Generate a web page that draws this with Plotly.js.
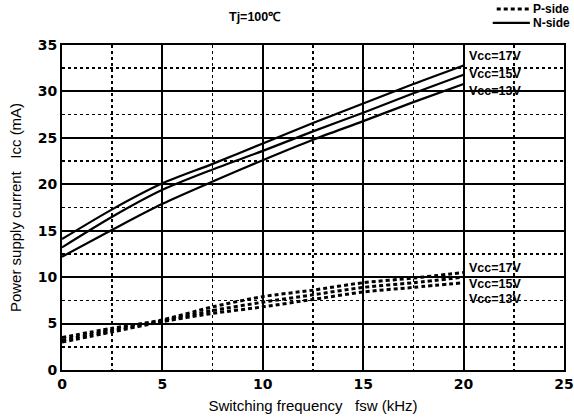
<!DOCTYPE html>
<html><head><meta charset="utf-8">
<script src="https://cdn.plot.ly/plotly-3.0.1.min.js"></script>
<style>html,body{margin:0;padding:0;background:#fff}#c{width:574px;height:419px}</style>
</head><body><div id="c"></div>
<script>
const fsw = [0, 2.5, 5, 7.5, 10, 12.5, 15, 17.5, 20];
const nSide17 = [14.1, 17.3, 20.1, 22.2, 24.4, 26.6, 28.7, 30.8, 32.8];
const nSide15 = [13.2, 16.5, 19.4, 21.6, 23.6, 25.7, 27.7, 29.8, 31.8];
const nSide13 = [12.2, 15.1, 17.9, 20.3, 22.6, 24.8, 26.8, 28.85, 30.8];
const pSide17 = [3.5, 4.5, 5.4, 6.8, 7.9, 8.6, 9.4, 9.9, 10.5];
const pSide15 = [3.2, 4.3, 5.3, 6.4, 7.3, 8.1, 8.9, 9.4, 10.0];
const pSide13 = [3.0, 4.1, 5.2, 6.1, 6.8, 7.6, 8.4, 8.9, 9.4];
const nLabels = ["Vcc=17V", "Vcc=15V", "Vcc=13V"];
const nLabelY = [33.8, 31.9, 30.0];
const pLabels = ["Vcc=17V", "Vcc=15V", "Vcc=13V"];
const pLabelY = [10.95, 9.3, 7.6];
const legendNames = ["P-side", "N-side"];

const nLine = {color: "black", width: 2.2, shape: "spline", smoothing: 0.8};
const pLine = {color: "black", width: 3, dash: "4px,3px", shape: "spline", smoothing: 0.8};
const traces = [
  {x: fsw, y: pSide17, mode: "lines", line: pLine, name: "P-side Vcc=17V"},
  {x: fsw, y: pSide15, mode: "lines", line: pLine, name: "P-side Vcc=15V"},
  {x: fsw, y: pSide13, mode: "lines", line: pLine, name: "P-side Vcc=13V"},
  {x: fsw, y: nSide17, mode: "lines", line: nLine, name: "N-side Vcc=17V"},
  {x: fsw, y: nSide15, mode: "lines", line: nLine, name: "N-side Vcc=15V"},
  {x: fsw, y: nSide13, mode: "lines", line: nLine, name: "N-side Vcc=13V"}
];
const lblFont = {family: "Liberation Sans", size: 12.5, color: "black"};
const annotations = [];
nLabels.forEach((t, i) => annotations.push({x: 20.15, y: nLabelY[i], text: "<b>" + t + "</b>", showarrow: false, xanchor: "left", yanchor: "middle", font: lblFont}));
pLabels.forEach((t, i) => annotations.push({x: 20.15, y: pLabelY[i], text: "<b>" + t + "</b>", showarrow: false, xanchor: "left", yanchor: "middle", font: lblFont}));
annotations.push({xref: "paper", yref: "paper", x: 0.385, y: 1.086, text: "<b>Tj=100℃</b>", showarrow: false, xanchor: "center", yanchor: "middle", font: {family: "Liberation Sans", size: 12.5, color: "black"}});
// legend texts
const legY = [1.111, 1.068];
legendNames.forEach((t, i) => annotations.push({xref: "paper", yref: "paper", x: 0.934, y: legY[i], text: "<b>" + t + "</b>", showarrow: false, xanchor: "left", yanchor: "middle", font: {family: "Liberation Sans", size: 12, color: "black"}}));
const shapes = [
  {type: "line", xref: "paper", yref: "paper", x0: 0.866, x1: 0.932, y0: legY[0], y1: legY[0], line: {color: "black", width: 3, dash: "4px,3px"}},
  {type: "line", xref: "paper", yref: "paper", x0: 0.858, x1: 0.932, y0: legY[1], y1: legY[1], line: {color: "black", width: 2.2}}
];

const tickFont = {family: "DejaVu Sans", size: 14, color: "black", weight: "bold"};
const layout = {
  width: 574, height: 419,
  margin: {l: 62, r: 10, t: 45, b: 49},
  paper_bgcolor: "white", plot_bgcolor: "white",
  showlegend: false,
  xaxis: {range: [0, 25], dtick: 5, tick0: 0, showgrid: true, gridcolor: "black", gridwidth: 2,
          zeroline: false, showline: true, linecolor: "black", linewidth: 2, mirror: true,
          ticks: "", tickfont: tickFont, ticklabelstandoff: 0,
          minor: {dtick: 2.5, tick0: 0, showgrid: true, gridcolor: "black", gridwidth: 1.5, griddash: "dot"},
          title: {text: "Switching frequency   fsw (kHz)", font: {family: "Liberation Sans", size: 15, color: "black"}, standoff: 10}},
  yaxis: {range: [0, 35], dtick: 5, tick0: 0, showgrid: true, gridcolor: "black", gridwidth: 2,
          zeroline: false, showline: true, linecolor: "black", linewidth: 2, mirror: true,
          ticks: "", tickfont: tickFont,
          minor: {dtick: 2.5, tick0: 0, showgrid: true, gridcolor: "black", gridwidth: 1.5, griddash: "dot"},
          title: {text: "Power supply current   Icc (mA)", font: {family: "Liberation Sans", size: 15, color: "black"}, standoff: 12}},
  annotations: annotations,
  shapes: shapes
};
Plotly.newPlot("c", traces, layout, {displayModeBar: false, staticPlot: true});
</script></body></html>
